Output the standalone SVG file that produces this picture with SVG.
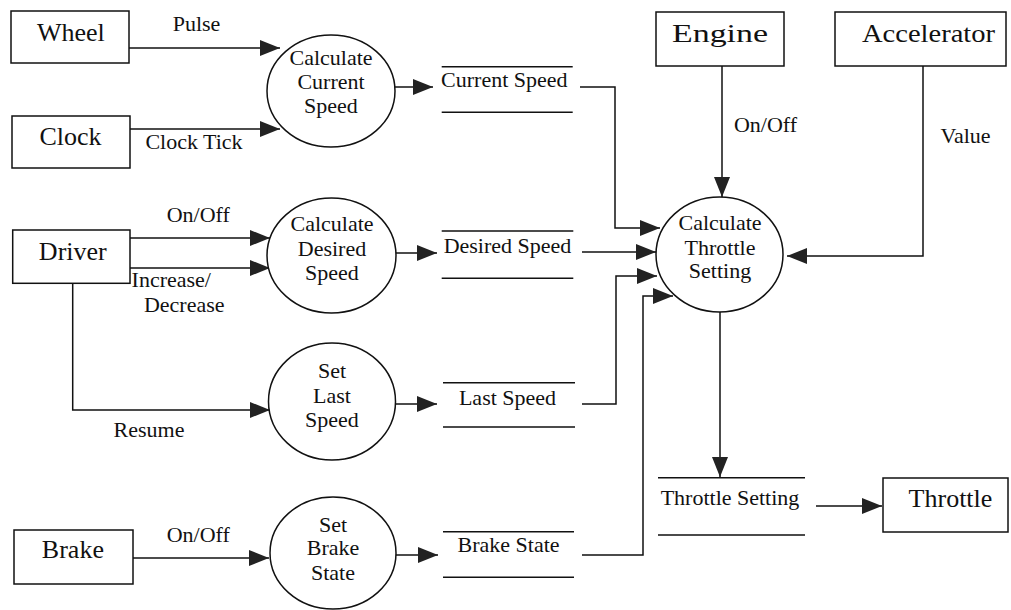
<svg xmlns="http://www.w3.org/2000/svg" width="1011" height="610" viewBox="0 0 1011 610" font-family="'Liberation Serif', 'DejaVu Serif', serif">
<style>
.box{fill:#fff;stroke:#111;stroke-width:1.5}
.proc{fill:#fff;stroke:#111;stroke-width:1.5}
.store{stroke:#111;stroke-width:1.5;fill:none}
.conn{fill:none;stroke:#111;stroke-width:1.5;marker-end:url(#ah)}
text{font-family:'Liberation Serif','Times New Roman','DejaVu Serif',serif;fill:#111;text-anchor:middle}
.big{font-size:26px}
.sm{font-size:22px}
</style>
<defs>
<marker id="ah" markerUnits="userSpaceOnUse" markerWidth="20" markerHeight="16" refX="20" refY="8" orient="auto">
<path d="M0,0 L20,8 L0,16 Z" fill="#222"/>
</marker>
</defs>
<rect width="1011" height="610" fill="#fff"/>

<g id="connectors">
<path class="conn" d="M129,48 H280"/>
<path class="conn" d="M130,129 H280"/>
<path class="conn" d="M394,87 H433"/>
<path class="conn" d="M130,238 H270"/>
<path class="conn" d="M130,268 H270"/>
<path class="conn" d="M72.7,283 V410 H270"/>
<path class="conn" d="M396,253 H437"/>
<path class="conn" d="M395,404 H437"/>
<path class="conn" d="M133,558 H269"/>
<path class="conn" d="M396,555 H438"/>
<path class="conn" d="M580,87 H615 V228 H660"/>
<path class="conn" d="M582,252 H656"/>
<path class="conn" d="M582,404 H616 V276 H657"/>
<path class="conn" d="M582,555 H643 V296 H673"/>
<path class="conn" d="M722,66 V197"/>
<path class="conn" d="M923,66 V256 H787"/>
<path class="conn" d="M720,312 V477"/>
<path class="conn" d="M816,506 H882"/>
<text class="sm" x="196.5" y="30.7">Pulse</text>
<text class="sm" x="194" y="149">Clock Tick</text>
<text class="sm" x="198.3" y="221.7">On/Off</text>
<text class="sm" x="171.3" y="286.7">Increase/</text>
<text class="sm" x="184.2" y="311.7">Decrease</text>
<text class="sm" x="149" y="437">Resume</text>
<text class="sm" x="198.3" y="541.7">On/Off</text>
<text class="sm" x="765.5" y="131.7">On/Off</text>
<text class="sm" x="965.5" y="143.3">Value</text>
</g>

<g id="wheel"><rect class="box" x="11" y="11" width="118" height="52"/><text class="big" x="70.8" y="40.7">Wheel</text></g>
<g id="clock"><rect class="box" x="12" y="116" width="118" height="52"/><text class="big" x="70.5" y="145">Clock</text></g>
<g id="driver"><rect class="box" x="12.7" y="230" width="117.3" height="53.3"/><text class="big" x="72.8" y="260">Driver</text></g>
<g id="brake"><rect class="box" x="14" y="530" width="119" height="54"/><text class="big" x="72.9" y="558.3">Brake</text></g>
<g id="engine"><rect class="box" x="656" y="12" width="128" height="54"/><text class="big" x="720" y="41.7" textLength="96" lengthAdjust="spacingAndGlyphs">Engine</text></g>
<g id="accelerator"><rect class="box" x="835" y="12" width="171" height="54"/><text class="big" x="928.5" y="41.7" textLength="133" lengthAdjust="spacingAndGlyphs">Accelerator</text></g>
<g id="throttle"><rect class="box" x="883" y="478" width="125" height="54"/><text class="big" x="950.5" y="507">Throttle</text></g>

<g id="calc-current"><ellipse class="proc" cx="331" cy="91" rx="64" ry="56"/>
<text class="sm" x="331" y="65">Calculate</text><text class="sm" x="331" y="89">Current</text><text class="sm" x="331" y="113">Speed</text></g>
<g id="calc-desired"><ellipse class="proc" cx="331.5" cy="255.5" rx="64.5" ry="57.5"/>
<text class="sm" x="332" y="230.7">Calculate</text><text class="sm" x="332" y="256">Desired</text><text class="sm" x="332" y="280">Speed</text></g>
<g id="set-last"><ellipse class="proc" cx="332" cy="401.5" rx="63.5" ry="58.5"/>
<text class="sm" x="332" y="378">Set</text><text class="sm" x="332" y="403">Last</text><text class="sm" x="332" y="427">Speed</text></g>
<g id="set-brake"><ellipse class="proc" cx="333" cy="553" rx="63" ry="56"/>
<text class="sm" x="333" y="531.7">Set</text><text class="sm" x="333" y="555">Brake</text><text class="sm" x="333" y="580">State</text></g>
<g id="calc-throttle"><ellipse class="proc" cx="719.5" cy="254.5" rx="63.5" ry="57.5"/>
<text class="sm" x="720" y="230">Calculate</text><text class="sm" x="720" y="255">Throttle</text><text class="sm" x="720" y="278">Setting</text></g>

<g id="store-current"><path class="store" d="M441.7,66.7 H572.7 M441.7,112.3 H572.7"/><text class="sm" x="504.3" y="87.3">Current Speed</text></g>
<g id="store-desired"><path class="store" d="M441.7,231 H573.3 M441.7,278.3 H573.3"/><text class="sm" x="507.5" y="253.3">Desired Speed</text></g>
<g id="store-last"><path class="store" d="M443,382.7 H575 M443,427 H575"/><text class="sm" x="507.5" y="405">Last Speed</text></g>
<g id="store-brake"><path class="store" d="M443,531.7 H574 M443,577.3 H574"/><text class="sm" x="508.6" y="551.7">Brake State</text></g>
<g id="store-throttle"><path class="store" d="M658,477.7 H805 M658,535 H805"/><text class="sm" x="730" y="505">Throttle Setting</text></g>
</svg>
